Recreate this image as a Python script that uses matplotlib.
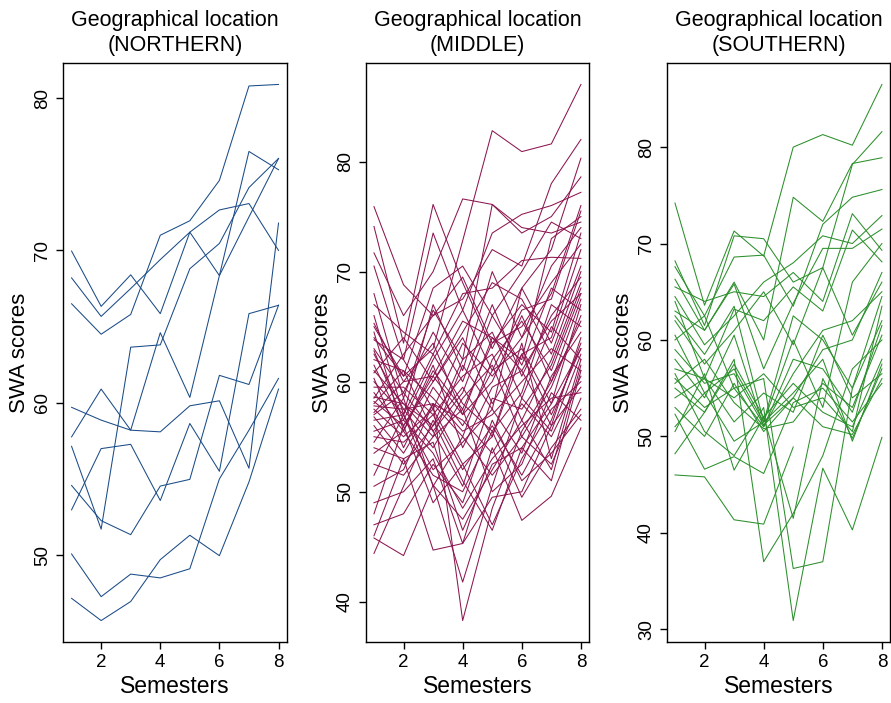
import numpy as np
import matplotlib
matplotlib.use("Agg")
import matplotlib.pyplot as plt

nan = np.nan
semesters = [1, 2, 3, 4, 5, 6, 7, 8]

northern = [
    [69.96, 66.33, 68.4, 65.85, 71.2, 68.35, 76.5, 75.3],
    [68.2, 65.67, 67.5, 69.4, 71.2, 72.66, 73.08, 70.0],
    [66.5, 64.5, 65.8, 71.0, 71.95, 74.6, 80.8, 80.9],
    [57.14, 51.7, 63.65, 63.8, 68.8, 70.46, 74.13, 76.04],
    [59.7, 58.86, 58.2, 58.09, 59.8, 60.13, 55.7, 71.8],
    [57.76, 60.9, 58.2, 64.6, 60.35, 68.35, 72.2, 76.04],
    [52.97, 56.99, 57.27, 53.58, 58.64, 55.5, 65.85, 66.4],
    [54.57, 52.26, 51.34, 54.53, 54.97, 61.8, 61.2, 66.4],
    [50.07, 47.27, 48.75, 48.5, 49.1, 55.0, 58.2, 61.6],
    [47.16, 45.7, 46.95, 49.7, 51.3, 49.96, 54.8, 60.9],
]

middle = [
    [64.0, 60.5, 63.0, 72.8, 82.8, 80.9, 81.6, 87.0],
    [75.9, 68.8, 66.0, 67.5, 72.0, 70.5, 78.0, 82.0],
    [74.1, 63.5, 76.1, 69.0, 63.0, 68.5, 72.0, 80.3],
    [71.7, 66.0, 70.0, 76.6, 76.1, 73.5, 75.0, 78.6],
    [70.5, 62.0, 73.5, 66.5, 73.5, 75.2, 76.0, 77.2],
    [68.0, 58.5, 66.5, 62.0, 76.1, 74.0, 73.5, 74.5],
    [67.0, 64.5, 62.5, 68.0, 68.5, 71.0, 71.3, 71.2],
    [66.0, 57.0, 67.0, 61.0, 70.0, 64.0, 68.0, 76.0],
    [65.3, 60.0, 60.5, 65.5, 64.0, 62.0, 73.0, 75.0],
    [64.5, 55.5, 61.0, 57.5, 63.5, 67.0, 64.5, 73.5],
    [63.8, 62.0, 57.5, 63.5, 60.5, 64.0, 70.5, 74.0],
    [63.0, 59.0, 64.5, 60.0, 67.0, 60.5, 66.0, 69.5],
    [62.5, 57.5, 58.0, 55.0, 62.0, 65.5, 61.0, 68.0],
    [62.0, 61.0, 55.5, 59.0, 66.0, 61.5, 68.5, 66.5],
    [61.5, 56.0, 60.0, 64.0, 58.0, 62.5, 64.0, 72.0],
    [61.0, 58.0, 55.0, 61.5, 57.5, 68.5, 63.5, 70.5],
    [60.3, 54.0, 59.5, 56.0, 61.0, 63.0, 58.0, 67.0],
    [60.0, 57.0, 62.5, 58.0, 55.5, 59.0, 67.0, 65.0],
    [59.5, 59.5, 57.0, 60.5, 62.5, 56.5, 62.0, 69.0],
    [59.0, 55.5, 61.5, 54.0, 59.5, 61.0, 56.0, 64.0],
    [58.6, 58.0, 56.0, 62.0, 64.5, 58.5, 65.0, 62.0],
    [58.2, 56.0, 60.5, 57.0, 60.0, 66.0, 60.0, 67.5],
    [58.0, 61.0, 58.5, 55.5, 57.0, 60.0, 63.0, 61.0],
    [57.8, 57.5, 54.0, 58.5, 61.5, 55.0, 59.5, 66.0],
    [57.5, 55.0, 57.5, 52.5, 55.0, 62.5, 57.0, 63.0],
    [57.0, 59.0, 55.5, 50.5, 58.5, 57.5, 61.5, 68.5],
    [56.8, 53.5, 58.0, 56.5, 53.5, 58.0, 55.0, 60.5],
    [56.5, 57.0, 52.0, 54.5, 57.5, 53.5, 60.5, 64.5],
    [56.0, 52.5, 56.0, 59.5, 55.0, 63.5, 53.0, 62.0],
    [55.5, 56.5, 53.5, 48.5, 53.0, 56.0, 58.5, 59.0],
    [55.0, 54.5, 57.0, 52.0, 56.0, 51.5, 56.5, 63.5],
    [54.5, 58.5, 50.5, 55.0, 51.5, 55.0, 52.5, 58.5],
    [54.0, 53.0, 54.5, 46.5, 52.5, 54.0, 51.0, 61.0],
    [53.5, 55.5, 51.5, 50.0, 55.5, 49.5, 54.0, 57.5],
    [52.5, 51.5, 55.0, 57.5, 50.0, 52.5, 59.0, 56.5],
    [51.5, 57.0, 50.6, 41.8, 50.5, 58.5, 55.5, 62.5],
    [50.5, 52.0, 58.0, 38.3, 48.5, 55.5, 60.0, 65.5],
    [49.0, 50.0, 53.0, 45.3, 54.0, 47.4, 49.6, 55.8],
    [48.0, 56.0, 49.0, 52.5, 47.0, 53.0, 57.5, 60.0],
    [47.0, 48.0, 52.5, 49.0, 56.5, 51.0, 53.5, 57.0],
    [46.0, 53.0, 44.7, 45.3, 49.5, 50.0, 56.0, 59.5],
    [45.8, 44.2, 50.6, 47.5, 52.0, 56.5, 52.0, 61.5],
    [44.4, 50.5, 56.5, 51.0, 46.5, 54.0, 58.0, 63.0],
    [58.5, 62.5, 66.0, 69.5, 63.5, 65.0, 69.0, 72.5],
    [60.8, 64.0, 60.0, 64.5, 69.0, 67.5, 62.5, 70.0],
    [65.0, 60.5, 68.5, 70.5, 66.0, 70.0, 74.5, 73.0],
    [57.2, 60.0, 63.5, 57.0, 64.0, 61.0, 65.5, 68.0],
    [62.8, 56.5, 62.0, 66.5, 61.0, 66.5, 67.5, 75.5],
]

southern = [
    [74.2, 63.6, 71.3, 68.7, 80.0, 81.3, 80.2, 86.5],
    [68.2, 61.5, 70.8, 70.5, 66.0, 67.5, 78.2, 81.6],
    [67.6, 62.5, 68.6, 68.8, 63.5, 72.0, 74.8, 75.6],
    [66.3, 61.0, 66.0, 60.0, 74.8, 72.3, 78.3, 78.9],
    [65.5, 64.0, 65.0, 64.5, 67.0, 64.0, 73.1, 69.3],
    [64.5, 59.5, 62.5, 66.0, 68.0, 70.8, 70.0, 72.9],
    [64.0, 56.0, 63.2, 62.0, 65.5, 63.0, 71.4, 68.1],
    [63.0, 61.0, 65.8, 57.0, 63.8, 69.5, 69.5, 71.5],
    [62.0, 57.5, 61.0, 65.0, 59.5, 67.5, 60.5, 66.0],
    [60.5, 54.5, 57.0, 51.5, 62.5, 60.0, 55.0, 64.5],
    [59.0, 55.5, 56.5, 51.2, 54.0, 59.0, 60.0, 67.0],
    [58.0, 54.0, 60.5, 51.0, 56.5, 61.0, 62.0, 65.0],
    [57.0, 56.0, 54.0, 56.5, 53.0, 54.0, 50.5, 63.5],
    [56.0, 53.0, 55.0, 51.0, 58.0, 57.0, 52.5, 61.5],
    [55.5, 58.0, 53.5, 50.8, 51.5, 55.5, 53.0, 60.5],
    [55.0, 52.5, 57.5, 52.0, 55.5, 52.5, 51.0, 58.0],
    [54.0, 56.0, 51.5, 54.5, 52.5, 60.5, 54.0, 56.5],
    [53.0, 50.0, 55.5, 50.5, 54.0, 51.0, 50.2, 56.0],
    [52.3, 46.6, 47.9, 46.15, 53.5, 55.0, 51.5, 55.5],
    [51.0, 54.5, 49.5, 51.5, 54.5, 58.0, 49.5, 57.5],
    [50.5, 56.5, 46.5, 52.0, 41.5, 56.0, 49.8, 57.0],
    [48.2, 52.5, 58.0, 37.0, 42.0, 48.0, 57.0, 60.0],
    [46.0, 45.8, 41.35, 40.9, 48.9, nan, nan, nan],
    [56.5, 50.5, 48.0, 53.0, 30.9, 46.7, 40.3, 49.9],
    [60.0, 62.5, 55.0, 56.0, 36.3, 37.0, 55.0, 62.0],
    [62.5, 58.5, 63.5, 51.5, 60.0, 53.0, 66.0, 70.0],
]

titles = ["Geographical location\n(NORTHERN)",
          "Geographical location\n(MIDDLE)",
          "Geographical location\n(SOUTHERN)"]
colors = ["#1a4b87", "#8c1650", "#2b8f2b"]
yticks = [[50, 60, 70, 80], [40, 50, 60, 70, 80], [30, 40, 50, 60, 70, 80]]
xticks = [2, 4, 6, 8]

plt.rcParams['font.family'] = ['Liberation Sans', 'DejaVu Sans']

W, H = 891, 703
fig = plt.figure(figsize=(W / 100, H / 100), dpi=100)
lefts = [63.3, 365.7, 666.7]
width = 223.5
top, bottom = 63, 642

for i, data in enumerate([northern, middle, southern]):
    ax = fig.add_axes([lefts[i] / W, 1 - bottom / H, width / W, (bottom - top) / H])
    for series in data:
        ax.plot(semesters, series, color=colors[i], lw=0.75)
    ax.margins(x=0.04, y=0.04)
    ax.set_xticks(xticks)
    ax.set_yticks(yticks[i])
    ax.tick_params(axis='both', labelsize=13.5, length=5, width=1, color='black', direction='out')
    for lab in ax.get_yticklabels():
        lab.set_rotation(90)
        lab.set_va('center')
    ax.set_xlabel("Semesters", fontsize=16.5, labelpad=3)
    ax.set_ylabel("SWA scores", fontsize=16, labelpad=3)
    ax.set_title(titles[i], fontsize=15.5, pad=9, linespacing=1.2)
    for s in ax.spines.values():
        s.set_linewidth(1.0)
        s.set_color('black')

fig.savefig("out.png", dpi=100)
